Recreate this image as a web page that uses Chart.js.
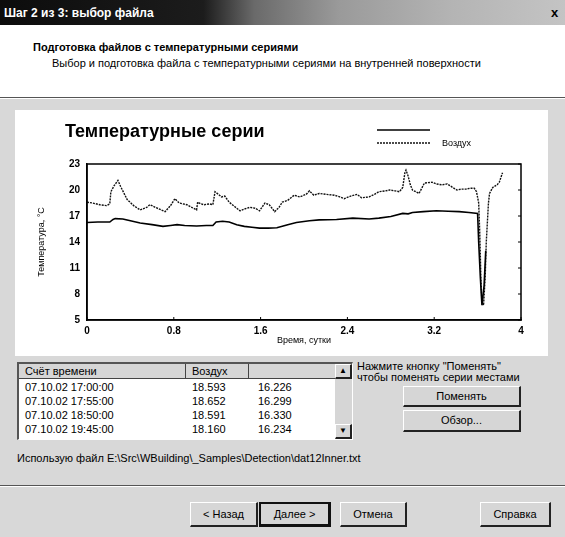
<!DOCTYPE html>
<html><head><meta charset="utf-8">
<script src="https://cdn.jsdelivr.net/npm/chart.js@4"></script>
<style>
body{margin:0;width:565px;height:537px;overflow:hidden;background:#d8d8d8;font-family:Arial,"Liberation Sans",sans-serif;position:relative;color:#000;}
.a{position:absolute;white-space:nowrap;line-height:1;}
#titlebar{left:0;top:0;width:565px;height:25px;background:linear-gradient(90deg,#0c0c0c 0,#1c1c1c 36%,#6a6a6a 45%,#9a9a9a 60%,#b4b4b4 80%,#c4c4c4 100%);}
#header{left:0;top:25px;width:565px;height:72px;background:#fff;}
.sep{left:0;width:565px;height:1px;background:#555;border-bottom:1px solid #fff;}
#panel{left:15px;top:110px;width:533px;height:246px;background:#fff;}
.btn{position:absolute;background:#d6d6d6;border-top:1px solid #fff;border-left:1px solid #fff;border-right:2px solid #222;border-bottom:2px solid #222;font-size:11px;text-align:center;box-sizing:border-box;}
#table{left:17px;top:362px;width:336px;height:78px;background:#fff;border-top:2px solid #555;border-left:2px solid #555;border-right:1px solid #fff;border-bottom:1px solid #fff;box-sizing:border-box;}
.cell{position:absolute;font-size:11px;white-space:nowrap;}
</style></head><body>
<div id="titlebar" class="a"></div>
<div class="a" style="left:4px;top:7px;font-size:12px;font-weight:bold;color:#fff;">Шаг 2 из 3: выбор файла</div>
<div class="a" style="left:551px;top:6px;font-size:13px;font-weight:bold;color:#000;">x</div>
<div id="header" class="a"></div>
<div class="a" style="left:33px;top:42px;font-size:11px;font-weight:bold;">Подготовка файлов с температурными сериями</div>
<div class="a" style="left:52px;top:58px;font-size:11px;">Выбор и подготовка файла с температурными сериями на внутренней поверхности</div>
<div class="a sep" style="top:97px;"></div>
<div id="panel" class="a"></div>
<div class="a" style="left:20px;top:112px;width:520px;height:243px;"><canvas id="c" width="520" height="243"></canvas></div>

<div id="table" class="a">
  <div class="cell" style="left:0;top:0;width:316px;height:14px;background:#d6d6d6;border-bottom:1px solid #444;"></div>
  <div class="cell" style="left:166px;top:0;width:1px;height:14px;background:#444;"></div>
  <div class="cell" style="left:229px;top:0;width:1px;height:14px;background:#444;"></div>
  <div class="cell" style="left:6px;top:2px;">Счёт времени</div>
  <div class="cell" style="left:173px;top:2px;">Воздух</div>
  <div class="cell" style="left:6px;top:18px;">07.10.02 17:00:00</div>
  <div class="cell" style="left:173px;top:18px;">18.593</div>
  <div class="cell" style="left:239px;top:18px;">16.226</div>
  <div class="cell" style="left:6px;top:32px;">07.10.02 17:55:00</div>
  <div class="cell" style="left:173px;top:32px;">18.652</div>
  <div class="cell" style="left:239px;top:32px;">16.299</div>
  <div class="cell" style="left:6px;top:46px;">07.10.02 18:50:00</div>
  <div class="cell" style="left:173px;top:46px;">18.591</div>
  <div class="cell" style="left:239px;top:46px;">16.330</div>
  <div class="cell" style="left:6px;top:60px;">07.10.02 19:45:00</div>
  <div class="cell" style="left:173px;top:60px;">18.160</div>
  <div class="cell" style="left:239px;top:60px;">16.234</div>
  <div class="cell" style="left:316px;top:0;width:17px;height:75px;background:#d6d6d6;"></div>
  <div class="btn" style="left:316px;top:0;width:17px;height:15px;font-size:8px;line-height:12px;">▲</div>
  <div class="btn" style="left:316px;top:60px;width:17px;height:15px;font-size:8px;line-height:12px;">▼</div>
</div>
<div class="a" style="left:357px;top:361px;font-size:11px;">Нажмите кнопку "Поменять"</div>
<div class="a" style="left:357px;top:372px;font-size:11px;">чтобы поменять серии местами</div>
<div class="btn" style="left:403px;top:386px;width:118px;height:21px;line-height:18px;">Поменять</div>
<div class="btn" style="left:403px;top:410px;width:118px;height:22px;line-height:19px;">Обзор...</div>
<div class="a" style="left:17px;top:453px;font-size:11px;">Использую файл E:\Src\WBuilding\_Samples\Detection\dat12Inner.txt</div>
<div class="a sep" style="top:485px;"></div>
<div class="btn" style="left:190px;top:502px;width:68px;height:25px;line-height:22px;">&lt; Назад</div>
<div class="btn" style="left:259px;top:502px;width:72px;height:25px;line-height:20px;border:2px solid #111;border-right:3px solid #111;border-bottom:3px solid #111;">Далее &gt;</div>
<div class="btn" style="left:340px;top:502px;width:67px;height:25px;line-height:22px;">Отмена</div>
<div class="btn" style="left:480px;top:502px;width:71px;height:25px;line-height:22px;">Справка</div>

<script>
// ---- data ----
const chartTitle = 'Температурные серии';
const seriesNames = ['', 'Воздух'];
const xTickValues = [0, 0.8, 1.6, 2.4, 3.2, 4];
const xTickLabels = ['0', '0.8', '1.6', '2.4', '3.2', '4'];
const yTickValues = [5, 8, 11, 14, 17, 20, 23];

const timeAir = [0.00,0.05,0.12,0.18,0.21,0.22,0.25,0.285,0.31,0.37,0.43,0.49,0.55,0.58,0.63,0.72,0.77,0.81,0.85,0.92,0.98,1.01,1.02,1.05,1.08,1.13,1.16,1.18,1.21,1.24,1.27,1.31,1.36,1.41,1.45,1.50,1.55,1.59,1.64,1.68,1.73,1.77,1.80,1.85,1.91,1.96,2.02,2.05,2.09,2.14,2.20,2.28,2.33,2.37,2.43,2.49,2.53,2.60,2.65,2.69,2.75,2.79,2.84,2.88,2.91,2.93,2.94,2.96,2.98,3.00,3.06,3.11,3.18,3.22,3.27,3.32,3.37,3.41,3.45,3.49,3.53,3.57,3.59,3.61,3.62,3.63,3.64,3.655,3.67,3.68,3.70,3.71,3.74,3.78,3.80,3.83];
const airTemp = [18.6,18.5,18.3,18.2,18.4,19.8,20.5,21.1,20.4,18.9,18.2,17.7,18.0,18.3,18.0,17.5,18.2,19.0,18.5,18.3,17.9,17.7,18.6,18.4,18.3,18.4,18.3,19.8,19.5,19.2,19.3,18.6,18.1,17.6,17.8,18.0,17.9,17.6,18.5,18.3,17.5,18.0,18.6,18.8,19.4,19.2,19.5,19.9,19.4,19.6,19.5,19.4,19.2,19.0,19.3,19.5,19.1,19.2,19.5,19.8,19.9,20.0,19.9,19.8,20.3,22.0,22.3,21.6,20.6,20.0,19.6,20.8,20.9,20.7,20.6,20.7,20.3,20.0,20.1,20.1,20.2,20.2,19.8,18.5,15.0,10.0,7.0,6.7,10.0,14.0,18.5,19.6,20.3,20.6,20.9,22.0];

const timeInner = [0.00,0.10,0.21,0.24,0.26,0.33,0.40,0.49,0.60,0.70,0.77,0.83,0.90,1.01,1.10,1.16,1.19,1.25,1.31,1.38,1.45,1.52,1.59,1.67,1.75,1.85,1.93,2.05,2.14,2.30,2.45,2.60,2.69,2.80,2.91,2.96,3.00,3.10,3.22,3.33,3.43,3.52,3.60,3.61,3.625,3.64,3.66,3.675];
const innerTemp = [16.25,16.3,16.3,16.6,16.7,16.65,16.45,16.2,16.0,15.8,15.9,16.0,15.9,15.85,15.9,15.9,16.3,16.4,16.3,16.0,15.8,15.7,15.6,15.6,15.65,16.0,16.25,16.45,16.55,16.6,16.75,16.65,16.75,16.95,17.3,17.25,17.4,17.5,17.6,17.55,17.5,17.4,17.3,14.0,10.0,6.7,9.0,13.0];

const pts = (xs, ys) => xs.map((x, i) => ({x: x, y: ys[i]}));

const framePlugin = {
  id: 'frame',
  afterDraw(chart) {
    const {ctx, chartArea: a, scales} = chart;
    ctx.save();
    ctx.strokeStyle = '#000';
    ctx.lineWidth = 1.5;
    ctx.strokeRect(a.left, a.top, a.right - a.left, a.bottom - a.top);
    ctx.lineWidth = 1;
    scales.y.ticks.forEach(t => {
      const y = scales.y.getPixelForValue(t.value);
      ctx.beginPath(); ctx.moveTo(a.right - 3, y); ctx.lineTo(a.right, y); ctx.stroke();
    });
    scales.x.ticks.forEach(t => {
      const x = scales.x.getPixelForValue(t.value);
      ctx.beginPath(); ctx.moveTo(x, a.bottom - 3); ctx.lineTo(x, a.bottom); ctx.stroke();
    });
    ctx.fillStyle = '#000';
    ctx.font = 'bold 18px Arial';
    ctx.textBaseline = 'middle';
    ctx.textAlign = 'left';
    ctx.fillText(chartTitle, 45, 20);
    chart.data.datasets.forEach((ds, i) => {
      const y = 18 + i * 13;
      ctx.strokeStyle = ds.borderColor;
      ctx.lineWidth = ds.borderWidth;
      ctx.setLineDash(ds.borderDash || []);
      ctx.beginPath(); ctx.moveTo(357, y); ctx.lineTo(410, y); ctx.stroke();
      ctx.setLineDash([]);
      ctx.font = '9px Arial';
      ctx.fillText(ds.label, 422, y + 1);
    });
    ctx.restore();
  }
};

new Chart(document.getElementById('c'), {
  type: 'line',
  data: {
    datasets: [
      {label: seriesNames[0], data: pts(timeInner, innerTemp), borderColor: '#000', borderWidth: 1.6, pointRadius: 0, fill: false},
      {label: seriesNames[1], data: pts(timeAir, airTemp), borderColor: '#111', borderWidth: 1.4, borderDash: [2, 1], pointRadius: 0, fill: false}
    ]
  },
  options: {
    responsive: false,
    animation: false,
    layout: {padding: {top: 52, right: 19, bottom: 0, left: 0}},
    plugins: {legend: {display: false}, title: {display: false}, tooltip: {enabled: false}},
    elements: {line: {tension: 0}},
    scales: {
      x: {
        type: 'linear', min: 0, max: 4,
        afterBuildTicks: s => { s.ticks = xTickValues.map(v => ({value: v})); },
        afterFit: s => { s.height = 35; },
        ticks: {color: '#000', font: {family: 'Arial', size: 10, weight: 'bold'}, padding: 5, maxRotation: 0, autoSkip: false,
                callback: (v, i) => xTickLabels[i]},
        grid: {display: false, drawTicks: false},
        border: {display: true, color: '#000', width: 1.5},
        title: {display: true, text: 'Время, сутки', color: '#000', font: {family: 'Arial', size: 9}, padding: {top: 0, bottom: 9}}
      },
      y: {
        type: 'linear', min: 5, max: 23,
        afterBuildTicks: s => { s.ticks = yTickValues.map(v => ({value: v})); },
        afterFit: s => { s.width = 67; },
        ticks: {color: '#000', font: {family: 'Arial', size: 10, weight: 'bold'}, padding: 7, autoSkip: false},
        grid: {display: false, drawTicks: false},
        border: {display: true, color: '#000', width: 1.5},
        title: {display: true, text: 'Температура, °C', color: '#000', font: {family: 'Arial', size: 9}, padding: {top: 16, bottom: 0}}
      }
    }
  },
  plugins: [framePlugin]
});
</script>
</body></html>
